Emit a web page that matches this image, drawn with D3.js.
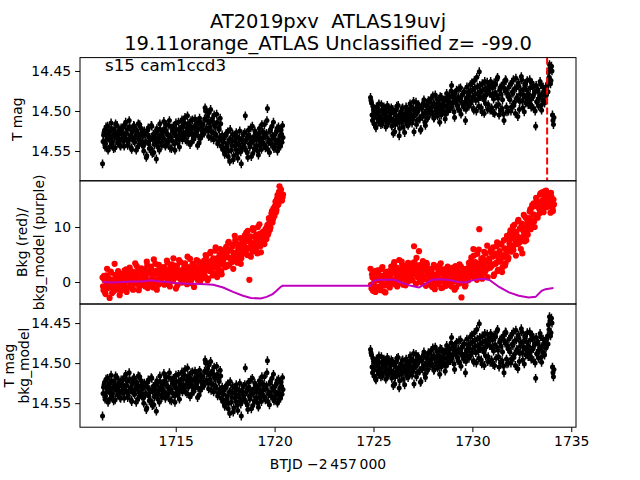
<!DOCTYPE html>
<html>
<head>
<meta charset="utf-8">
<script src="https://cdn.jsdelivr.net/npm/d3@7"></script>
<style>
body { margin: 0; background: #ffffff; }
text { font-family: "DejaVu Sans", sans-serif; fill: #000000; white-space: pre; }
</style>
</head>
<body>
<div></div>
<script>
const width = 640;
const height = 480;

// time spans of the two orbits (BTJD - 2457000); the "b" arrays sit half a cadence later
const seg1_span = [1711.3, 1720.4];
const seg2_span = [1724.85, 1734.1];
const flag_time = 1733.78;
const mag_err = 0.0055;

// T mag, orbit 1
const seg1_mag = [
	14.566, 14.530, 14.524, 14.541, 14.536, 14.519, 14.528, 14.545, 14.533, 14.522, 14.538, 14.547, 14.527, 14.516, 14.531, 14.540, 14.525, 14.535, 14.544, 14.529,
	14.521, 14.537, 14.530, 14.514, 14.528, 14.543, 14.535, 14.520, 14.533, 14.548, 14.526, 14.518, 14.539, 14.531, 14.524, 14.545, 14.536, 14.517, 14.529, 14.541,
	14.532, 14.550, 14.527, 14.538, 14.556, 14.524, 14.541, 14.533, 14.547, 14.519, 14.535, 14.552, 14.528, 14.539, 14.522, 14.545, 14.534, 14.516, 14.530, 14.543,
	14.527, 14.513, 14.536, 14.524, 14.541, 14.530, 14.518, 14.546, 14.533, 14.521, 14.538, 14.526, 14.549, 14.515, 14.531, 14.540, 14.523, 14.534, 14.528, 14.511,
	14.519, 14.532, 14.508, 14.527, 14.538, 14.516, 14.524, 14.542, 14.512, 14.529, 14.521, 14.535, 14.510, 14.526, 14.518, 14.531, 14.540, 14.514, 14.523, 14.530,
	14.517, 14.528, 14.496, 14.499, 14.512, 14.525, 14.502, 14.520, 14.534, 14.510, 14.527, 14.505, 14.519, 14.531, 14.514, 14.538, 14.523, 14.509, 14.544, 14.530,
	14.546, 14.533, 14.552, 14.528, 14.541, 14.557, 14.536, 14.523, 14.549, 14.538, 14.561, 14.531, 14.544, 14.527, 14.553, 14.540, 14.534, 14.548, 14.566, 14.537,
	14.529, 14.545, 14.506, 14.536, 14.552, 14.524, 14.541, 14.533, 14.557, 14.519, 14.538, 14.547, 14.528, 14.543, 14.531, 14.555, 14.522, 14.539, 14.548, 14.526,
	14.534, 14.517, 14.546, 14.528, 14.497, 14.539, 14.552, 14.523, 14.541, 14.531, 14.514, 14.545, 14.536, 14.526, 14.550, 14.520, 14.538, 14.544, 14.529, 14.518
];
const seg1_mag_b = [
	14.538, 14.527, 14.545, 14.520, 14.532, 14.549, 14.526, 14.537, 14.515, 14.541, 14.530, 14.523, 14.546, 14.534, 14.518, 14.539, 14.528, 14.543, 14.521, 14.536,
	14.529, 14.544, 14.517, 14.535, 14.523, 14.540, 14.512, 14.531, 14.546, 14.525, 14.537, 14.519, 14.533, 14.549, 14.527, 14.516, 14.542, 14.530, 14.522, 14.538,
	14.544, 14.525, 14.539, 14.558, 14.530, 14.521, 14.547, 14.536, 14.518, 14.553, 14.529, 14.542, 14.533, 14.560, 14.526, 14.538, 14.549, 14.523, 14.540, 14.531,
	14.535, 14.522, 14.544, 14.517, 14.529, 14.538, 14.512, 14.532, 14.547, 14.525, 14.519, 14.541, 14.531, 14.523, 14.537, 14.514, 14.545, 14.527, 14.520, 14.536,
	14.527, 14.515, 14.536, 14.521, 14.506, 14.530, 14.518, 14.525, 14.539, 14.511, 14.533, 14.520, 14.528, 14.513, 14.543, 14.522, 14.509, 14.534, 14.517, 14.526,
	14.524, 14.510, 14.500, 14.521, 14.507, 14.532, 14.515, 14.498, 14.526, 14.513, 14.536, 14.518, 14.529, 14.504, 14.541, 14.522, 14.533, 14.516, 14.537, 14.548,
	14.539, 14.554, 14.531, 14.545, 14.526, 14.550, 14.563, 14.535, 14.543, 14.529, 14.556, 14.537, 14.548, 14.532, 14.559, 14.542, 14.525, 14.551, 14.536, 14.545,
	14.541, 14.527, 14.549, 14.534, 14.558, 14.530, 14.545, 14.521, 14.539, 14.553, 14.532, 14.525, 14.546, 14.536, 14.550, 14.528, 14.543, 14.534, 14.517, 14.540,
	14.527, 14.543, 14.532, 14.512, 14.548, 14.536, 14.525, 14.541, 14.519, 14.534, 14.547, 14.529, 14.540, 14.522, 14.537, 14.545, 14.531, 14.524, 14.539, 14.533
];

// T mag, orbit 2
const seg2_mag = [
	14.483, 14.490, 14.512, 14.498, 14.508, 14.519, 14.495, 14.504, 14.514, 14.500, 14.509, 14.492, 14.516, 14.503, 14.497, 14.511, 14.506, 14.493, 14.515, 14.501,
	14.508, 14.496, 14.513, 14.528, 14.502, 14.517, 14.499, 14.510, 14.493, 14.531, 14.506, 14.514, 14.497, 14.520, 14.504, 14.511, 14.495, 14.509, 14.518, 14.500,
	14.491, 14.507, 14.515, 14.498, 14.526, 14.503, 14.489, 14.512, 14.500, 14.494, 14.509, 14.523, 14.497, 14.505, 14.486, 14.514, 14.502, 14.493, 14.508, 14.499,
	14.488, 14.503, 14.495, 14.481, 14.509, 14.492, 14.499, 14.485, 14.506, 14.490, 14.514, 14.497, 14.483, 14.501, 14.493, 14.487, 14.504, 14.478, 14.496, 14.489,
	14.482, 14.497, 14.468, 14.490, 14.479, 14.508, 14.486, 14.474, 14.493, 14.483, 14.499, 14.471, 14.488, 14.480, 14.495, 14.476, 14.512, 14.484, 14.491, 14.477,
	14.481, 14.467, 14.488, 14.474, 14.497, 14.462, 14.479, 14.500, 14.470, 14.485, 14.451, 14.476, 14.496, 14.466, 14.483, 14.503, 14.472, 14.480, 14.464, 14.492,
	14.473, 14.499, 14.468, 14.481, 14.502, 14.465, 14.477, 14.494, 14.460, 14.484, 14.505, 14.471, 14.479, 14.497, 14.466, 14.512, 14.475, 14.462, 14.501, 14.482,
	14.470, 14.486, 14.500, 14.464, 14.478, 14.493, 14.472, 14.459, 14.483, 14.507, 14.469, 14.488, 14.475, 14.461, 14.496, 14.480, 14.466, 14.490, 14.474, 14.485,
	14.479, 14.461, 14.492, 14.484, 14.470, 14.497, 14.476, 14.519, 14.488, 14.473, 14.494, 14.481, 14.467, 14.499, 14.486, 14.477, 14.490, 14.472, 14.478, 14.466,
	14.452, 14.442, 14.466, 14.444, 14.505, 14.517
];
const seg2_mag_b = [
	14.487, 14.505, 14.494, 14.516, 14.502, 14.521, 14.498, 14.510, 14.491, 14.507, 14.517, 14.499, 14.512, 14.495, 14.506, 14.520, 14.500, 14.513, 14.496, 14.508,
	14.503, 14.519, 14.498, 14.511, 14.526, 14.505, 14.494, 14.515, 14.507, 14.522, 14.501, 14.512, 14.496, 14.509, 14.527, 14.503, 14.516, 14.498, 14.506, 14.513,
	14.504, 14.495, 14.511, 14.488, 14.506, 14.497, 14.517, 14.501, 14.492, 14.510, 14.524, 14.496, 14.507, 14.490, 14.503, 14.518, 14.494, 14.509, 14.487, 14.500,
	14.497, 14.484, 14.502, 14.491, 14.508, 14.480, 14.495, 14.503, 14.487, 14.498, 14.482, 14.505, 14.492, 14.499, 14.486, 14.510, 14.494, 14.483, 14.500, 14.490,
	14.489, 14.475, 14.494, 14.483, 14.501, 14.478, 14.490, 14.485, 14.497, 14.472, 14.487, 14.504, 14.480, 14.492, 14.476, 14.489, 14.498, 14.470, 14.485, 14.494,
	14.476, 14.490, 14.465, 14.483, 14.499, 14.471, 14.487, 14.458, 14.478, 14.494, 14.468, 14.482, 14.501, 14.474, 14.486, 14.463, 14.491, 14.477, 14.498, 14.469,
	14.478, 14.463, 14.496, 14.471, 14.485, 14.503, 14.467, 14.480, 14.458, 14.492, 14.474, 14.499, 14.469, 14.486, 14.504, 14.472, 14.461, 14.495, 14.478, 14.500,
	14.482, 14.467, 14.495, 14.476, 14.461, 14.489, 14.503, 14.471, 14.484, 14.465, 14.498, 14.479, 14.457, 14.487, 14.473, 14.501, 14.468, 14.483, 14.462, 14.492,
	14.486, 14.471, 14.495, 14.465, 14.482, 14.478, 14.500, 14.468, 14.489, 14.475, 14.484, 14.463, 14.493, 14.479, 14.470, 14.488, 14.474, 14.481, 14.469, 14.476,
	14.458, 14.447, 14.462, 14.450, 14.512, 14.508
];

// background flux, orbit 1
const seg1_bkg = [
	0.8, -1.5, 0.3, -2.2, 1.2, -0.6, 0.5, -2.9, 1.9, -0.9, 0.1, -1.7, 3.3, -0.4, 0.9, -1.2, 0.4, -2.4, 1.5, -0.2,
	0.7, -1.0, 2.1, 0.2, -1.8, 1.3, 0.5, 2.6, -0.7, 1.0, -1.3, 0.4, 1.8, -0.3, 2.9, 0.9, -1.5, 0.1, 1.6, -0.5,
	1.4, -0.4, 2.3, 0.6, 3.7, -1.1, 1.9, 0.3, 2.8, -0.6, 1.2, 4.1, 0.0, 2.0, -1.4, 1.6, 3.1, 0.7, -0.2, 2.5,
	0.9, 2.7, -0.3, 1.8, 3.9, 0.4, 2.2, -0.8, 1.5, 3.2, 0.2, 2.4, 1.0, -1.2, 2.9, 1.4, 4.0, 0.6, 1.9, -0.1,
	2.3, 0.5, 3.4, 1.1, -0.4, 2.7, 1.6, 4.2, 0.3, 2.0, 3.1, -0.9, 1.8, 2.6, 0.8, 3.8, 1.3, 0.1, 2.4, 1.5,
	2.1, 3.9, 1.0, 4.6, 2.8, 0.6, 3.5, 5.2, 2.2, 4.0, 1.5, 3.1, 5.7, 2.6, 0.9, 4.4, 3.3, 6.0, 2.0, 4.8,
	3.8, 5.6, 2.7, 6.4, 4.5, 7.1, 3.2, 5.9, 4.1, 6.8, 2.4, 5.3, 7.6, 4.7, 3.5, 6.1, 5.0, 8.0, 4.3, 6.6,
	5.8, 7.9, 6.3, 9.0, 4.9, 7.4, 0.4, 8.3, 6.7, 5.5, 9.4, 7.0, 6.1, 8.6, 5.2, 7.7, 10.5, 6.5, 8.1, 7.3,
	8.4, 6.9, 9.6, 7.8, 10.4, 8.9, 11.2, 9.9, 12.5, 10.8, 13.4, 12.0, 14.6, 13.1, 15.8, 14.2, 17.4, 15.1, 16.0, 15.4
];
const seg1_bkg_b = [
	-0.8, 1.1, -1.9, 0.2, 2.4, -1.1, 0.6, -0.3, 1.7, -2.0, 0.4, -0.7, 1.3, -1.4, 0.0, 2.0, -0.5, 0.9, -1.6, 0.3,
	1.2, -0.4, 0.8, 2.3, -1.1, 0.3, 1.5, -0.6, 2.0, 0.1, -1.4, 1.1, 3.4, -0.2, 0.6, 1.9, -0.9, 0.4, 2.5, 0.0,
	0.5, 2.0, -0.8, 1.3, 3.0, 0.2, 1.7, -0.3, 2.4, 0.9, -1.0, 1.5, 3.3, 0.4, 2.1, -0.5, 1.0, 2.7, 0.1, 1.8,
	1.6, -0.5, 2.3, 0.8, 3.5, 1.1, -0.2, 2.6, 0.5, 1.9, 4.3, 0.7, 1.4, 3.0, -0.6, 2.1, 1.2, 3.6, 0.3, 1.7,
	1.4, 3.0, 0.6, 2.2, 4.6, 1.0, 2.5, -0.2, 1.7, 3.3, 0.9, 2.8, 1.3, 4.0, 0.4, 2.0, 3.5, 1.1, 2.9, 0.7,
	3.4, 1.8, 4.9, 2.5, 0.3, 3.7, 2.0, 5.5, 3.0, 1.2, 4.3, 2.7, 6.3, 1.6, 3.9, 2.3, 5.0, 3.2, 1.4, 4.1,
	4.6, 3.1, 6.0, 5.2, 2.9, 7.3, 4.4, 5.7, 3.6, 6.5, 4.9, 8.4, 3.9, 5.4, 6.9, 4.2, 5.8, 3.3, 7.0, 5.1,
	6.8, 8.5, 5.6, 7.6, 9.3, 6.2, 8.0, 4.6, 7.1, 9.8, 6.4, 8.2, 5.9, 7.5, 10.0, 6.9, 8.8, 5.4, 7.8, 9.1,
	7.5, 9.2, 8.1, 10.0, 8.6, 11.6, 9.5, 10.9, 12.9, 11.4, 12.2, 13.8, 12.7, 15.1, 14.0, 16.4, 15.6, 16.8, 14.8, 15.9
];

// background flux, orbit 2
const seg2_bkg = [
	2.4, -1.2, 0.8, -0.3, 1.7, -1.8, 0.5, 2.1, -0.9, 1.2, -1.5, 0.1, 2.7, -0.6, 1.0, -1.9, 0.6, 1.9, -0.4, 0.9,
	1.3, 2.8, -0.2, 1.9, 3.6, 0.5, 2.4, -0.8, 1.6, 4.0, 0.9, 2.2, 3.1, -0.5, 1.8, 2.9, 0.3, 1.1, 3.5, 0.7,
	2.5, 0.8, 3.4, 1.6, 6.5, 2.2, -0.3, 3.0, 1.3, 5.6, 0.4, 2.7, 1.9, 3.8, 0.6, 2.1, -0.7, 3.2, 1.5, 0.2,
	1.8, -0.6, 2.4, 0.7, 3.1, -1.3, 1.2, 0.3, 2.6, -0.2, 1.5, 3.4, 0.1, -1.0, 2.0, 0.8, 1.9, -0.5, 2.8, 0.4,
	1.1, 2.5, -0.8, 0.6, 1.9, -1.4, 2.9, 0.2, 1.4, -0.3, 3.2, 0.9, -2.8, 1.7, 0.4, 2.3, -0.6, 1.0, 2.0, 0.3,
	3.0, 1.2, 4.5, 2.3, 6.0, 0.8, 3.6, 2.0, 5.1, 1.5, 9.6, 2.8, 4.2, 0.6, 3.3, 5.5, 1.9, 3.9, 6.6, 2.5,
	4.3, 2.6, 5.4, 3.1, 6.3, 1.4, 4.8, 3.5, 7.2, 2.2, 5.0, 3.9, 6.8, 1.8, 4.5, 7.6, 3.0, 5.9, 8.4, 4.1,
	6.2, 8.8, 5.5, 7.9, 10.1, 6.7, 9.2, 4.8, 8.3, 11.0, 7.1, 9.7, 6.0, 10.6, 8.0, 12.2, 7.4, 9.9, 11.5, 8.6,
	10.4, 12.8, 9.6, 13.5, 11.2, 14.3, 10.0, 12.1, 15.0, 11.7, 13.9, 12.5, 16.1, 13.0, 14.8, 12.7, 16.5, 15.4, 13.6, 16.2,
	14.4, 16.0, 12.6, 15.5, 13.4, 15.0
];
const seg2_bkg_b = [
	-0.5, 1.4, -1.6, 0.7, 2.0, -0.9, 0.3, 1.6, -1.3, 0.5, 2.3, -0.2, 1.1, -1.7, 0.8, 1.8, -0.6, 0.2, 1.3, -1.0,
	2.1, 0.4, 1.7, 3.2, -0.4, 1.4, 2.6, 0.8, 2.0, -0.1, 1.2, 3.7, 0.6, 2.3, 1.0, -0.6, 2.7, 1.5, 0.2, 1.9,
	1.1, 2.8, 0.3, 2.0, 3.6, 1.4, 4.4, 0.9, 2.5, 1.7, 3.1, -0.1, 2.2, 1.0, 2.9, 0.5, 3.5, 1.8, 0.8, 2.4,
	0.6, 2.1, -0.9, 1.4, 0.2, 2.7, 1.0, -0.4, 1.8, 3.0, 0.5, -1.1, 1.6, 2.3, 0.0, 1.2, -0.7, 2.5, 0.9, 1.5,
	0.8, -0.5, 1.7, 2.6, 0.1, 1.3, -1.0, 2.2, 0.6, 1.8, -0.2, 2.8, 1.1, 0.3, 1.9, -0.8, 2.4, 0.7, 1.4, 3.5,
	2.1, 3.8, 1.0, 2.9, 4.8, 1.7, 3.2, 0.4, 2.6, 5.9, 1.3, 3.5, 2.2, 4.4, 1.6, 3.0, 5.2, 2.4, 0.9, 3.7,
	3.6, 5.8, 2.9, 4.6, 1.1, 5.2, 3.3, 6.5, 2.0, 4.0, 5.6, 3.7, 7.0, 2.7, 4.9, 6.1, 3.4, 5.0, 7.9, 4.4,
	7.0, 9.4, 6.4, 8.5, 5.8, 10.4, 7.7, 9.0, 6.9, 11.3, 8.1, 7.3, 10.0, 5.2, 9.3, 8.7, 11.8, 7.6, 10.7, 9.5,
	11.6, 13.2, 10.7, 14.0, 12.3, 11.0, 13.8, 15.3, 12.0, 14.5, 13.3, 15.9, 12.9, 16.3, 14.1, 15.7, 13.6, 16.6, 15.0, 14.7,
	15.3, 13.8, 16.2, 14.9, 12.9, 14.1
];

// background model (purple line)
const model_time = [
	1711.3, 1711.8, 1712.3, 1712.8, 1713.3, 1713.7, 1714.2, 1714.6, 1715.0, 1715.5, 1716.0, 1716.5, 1716.9,
	1717.4, 1717.9, 1718.4, 1718.8, 1719.3, 1719.6, 1719.9, 1720.1, 1720.3, 1720.4,
	1724.85, 1725.05, 1725.35, 1725.7, 1726.05, 1726.4, 1726.9, 1727.3, 1727.6, 1727.95, 1728.45, 1728.9,
	1729.3, 1729.65, 1730.0, 1730.3, 1730.6, 1730.9, 1731.35, 1731.85, 1732.35, 1732.85, 1733.2, 1733.5,
	1733.7, 1734.1
];
const model_value = [
	0.0, -0.1, 0.0, 0.1, 0.1, 0.3, 0.1, 0.0, -0.2, -0.3, -0.3, -0.4, -0.5,
	-1.0, -1.8, -2.5, -2.9, -3.0, -2.7, -2.2, -1.6, -0.9, -0.7,
	-0.7, 0.3, 0.4, 0.4, 0.4, -0.1, -0.7, -1.0, -0.4, 0.4, 0.5, 0.3,
	0.0, -0.1, 0.3, 0.5, 0.6, 0.3, -0.9, -1.9, -2.5, -2.8, -2.7, -1.6,
	-1.3, -1.1
];

const x_ticks = [1715, 1720, 1725, 1730, 1735];
const mag_ticks = [14.45, 14.50, 14.55];
const bkg_ticks = [0, 10];

var left = 80, right = 576;
var panels = [
	{ top: 57.6, bottom: 180.8, domain: [14.4333, 14.5872], ticks: mag_ticks, fmt: ".2f" },
	{ top: 180.8, bottom: 304, domain: [-4.0, 18.4], ticks: bkg_ticks, fmt: "d" },
	{ top: 304, bottom: 427.2, domain: [14.4262, 14.5800], ticks: mag_ticks, fmt: ".2f" }
];

// pair each value with its cadence time; shift = fraction of a cadence
function pairs(span, vals, shift) {
	var step = (span[1] - span[0]) / (vals.length - 1);
	return vals.map(function (v, i) {
		return [span[0] + (i + shift) * step, v];
	});
}

var mag_pts = [].concat(
	pairs(seg1_span, seg1_mag, 0), pairs(seg1_span, seg1_mag_b, 0.5),
	pairs(seg2_span, seg2_mag, 0), pairs(seg2_span, seg2_mag_b, 0.5));
var bkg_pts = [].concat(
	pairs(seg1_span, seg1_bkg, 0), pairs(seg1_span, seg1_bkg_b, 0.5),
	pairs(seg2_span, seg2_bkg, 0), pairs(seg2_span, seg2_bkg_b, 0.5));

var svg = d3.select("div")
	.append("svg")
	.attr("width", width)
	.attr("height", height)
	.style("display", "block");

var x = d3.scaleLinear().domain([1710.16, 1735.24]).range([left, right]);

panels.forEach(function (p, k) {
	p.y = d3.scaleLinear().domain(p.domain).range(k == 1 ? [p.bottom, p.top] : [p.top, p.bottom]);
	svg.append("defs").append("clipPath")
		.attr("id", "clip" + k)
		.append("rect")
		.attr("x", left).attr("y", p.top)
		.attr("width", right - left).attr("height", p.bottom - p.top);
	p.g = svg.append("g").attr("clip-path", "url(#clip" + k + ")");
});

function magPoints(g, y) {
	g.selectAll(".err")
		.data(mag_pts)
		.enter()
		.append("line")
		.attr("x1", function (d) { return x(d[0]); })
		.attr("x2", function (d) { return x(d[0]); })
		.attr("y1", function (d) { return y(d[1] - mag_err); })
		.attr("y2", function (d) { return y(d[1] + mag_err); })
		.style("stroke", "#000000")
		.style("stroke-width", 1.5);
	g.selectAll(".pt")
		.data(mag_pts)
		.enter()
		.append("circle")
		.attr("cx", function (d) { return x(d[0]); })
		.attr("cy", function (d) { return y(d[1]); })
		.attr("r", 2.5)
		.attr("fill", "#000000");
}

magPoints(panels[0].g, panels[0].y);
magPoints(panels[2].g, panels[2].y);

panels[0].g.append("line")
	.attr("x1", x(flag_time)).attr("x2", x(flag_time))
	.attr("y1", panels[0].top).attr("y2", panels[0].bottom)
	.style("stroke", "#ff0000")
	.style("stroke-width", 2)
	.style("stroke-dasharray", "7,3");

panels[1].g.selectAll(".bkg")
	.data(bkg_pts)
	.enter()
	.append("circle")
	.attr("cx", function (d) { return x(d[0]); })
	.attr("cy", function (d) { return panels[1].y(d[1]); })
	.attr("r", 3.1)
	.attr("fill", "#ff0000");

panels[1].g.append("path")
	.datum(model_time.map(function (t, i) { return [t, model_value[i]]; }))
	.attr("d", d3.line()
		.x(function (d) { return x(d[0]); })
		.y(function (d) { return panels[1].y(d[1]); }))
	.style("fill", "none")
	.style("stroke", "#bf00bf")
	.style("stroke-width", 2);

// frames and y axes
panels.forEach(function (p) {
	svg.append("rect")
		.attr("x", left).attr("y", p.top)
		.attr("width", right - left).attr("height", p.bottom - p.top)
		.style("fill", "none")
		.style("stroke", "#000000")
		.style("stroke-width", 1);
	var ax = svg.append("g")
		.attr("transform", "translate(" + left + ",0)")
		.call(d3.axisLeft(p.y).tickValues(p.ticks).tickFormat(d3.format(p.fmt)).tickSize(4.9).tickPadding(4));
	ax.select(".domain").remove();
	ax.selectAll("text").style("font-size", "13.9px").style("font-family", "DejaVu Sans");
	ax.selectAll("line").style("stroke-width", 1);
});

var xax = svg.append("g")
	.attr("transform", "translate(0," + panels[2].bottom + ")")
	.call(d3.axisBottom(x).tickValues(x_ticks).tickFormat(d3.format("d")).tickSize(4.9).tickPadding(4));
xax.select(".domain").remove();
xax.selectAll("text").style("font-size", "13.9px").style("font-family", "DejaVu Sans");
xax.selectAll("line").style("stroke-width", 1);

function ylabel(lines, xs, yc) {
	lines.forEach(function (s, i) {
		svg.append("text")
			.attr("transform", "translate(" + xs[i] + "," + yc + ") rotate(-90)")
			.attr("text-anchor", "middle")
			.attr("dy", "0.35em")
			.style("font-size", "13.9px")
			.text(s);
	});
}
ylabel(["T mag"], [17], (panels[0].top + panels[0].bottom) / 2);
ylabel(["Bkg (red)/", "bkg_model (purple)"], [22, 39.5], (panels[1].top + panels[1].bottom) / 2);
ylabel(["T mag", "bkg_model"], [9, 24], (panels[2].top + panels[2].bottom) / 2);

svg.append("text")
	.attr("x", (left + right) / 2).attr("y", 468.5)
	.attr("text-anchor", "middle")
	.style("font-size", "13.9px")
	.text("BTJD \u22122\u2009457\u2009000");

svg.append("text")
	.attr("x", 105).attr("y", 71)
	.style("font-size", "16.7px")
	.text("s15 cam1ccd3");

svg.append("text")
	.attr("x", (left + right) / 2).attr("y", 27.5)
	.attr("text-anchor", "middle")
	.style("font-size", "19.5px")
	.text("AT2019pxv  ATLAS19uvj");
svg.append("text")
	.attr("x", (left + right) / 2).attr("y", 50)
	.attr("text-anchor", "middle")
	.style("font-size", "19.5px")
	.text("19.11orange_ATLAS Unclassified z= -99.0");
</script>
</body>
</html>
